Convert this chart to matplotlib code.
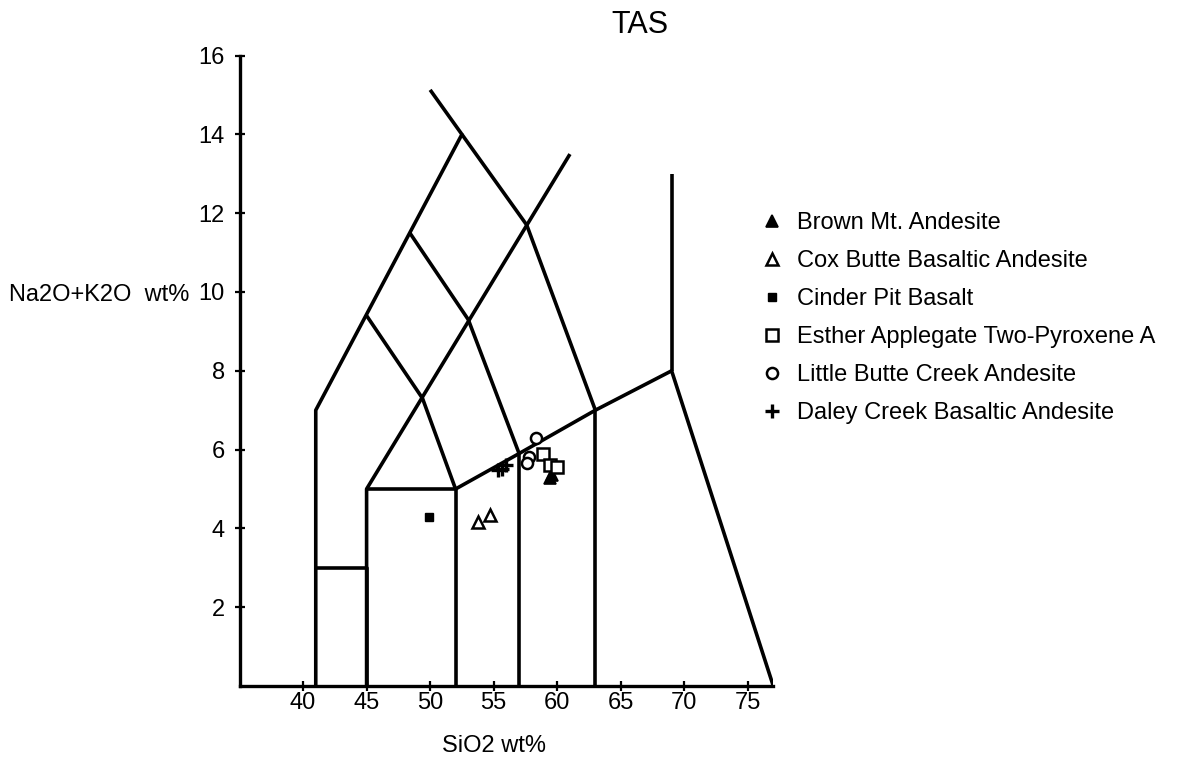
import matplotlib
matplotlib.use("Agg")
import matplotlib.pyplot as plt

plt.rcParams['font.family'] = ['Liberation Sans', 'DejaVu Sans']

# TAS field boundaries (Le Bas et al.), SiO2 vs Na2O+K2O
tas_lines = [
    ([41, 41, 52.5, 50.0], [0, 7, 14, 15.13]),
    ([41, 45, 45], [3, 3, 0]),
    ([45, 45, 61], [0, 5, 13.5]),
    ([45, 52, 52], [5, 5, 0]),
    ([52, 57, 63, 69, 77], [5, 5.9, 7, 8, 0]),
    ([57, 57], [0, 5.9]),
    ([63, 63], [0, 7]),
    ([69, 69], [8, 13]),
    ([52, 49.4, 45], [5, 7.3, 9.4]),
    ([57, 53, 48.4], [5.9, 9.3, 11.5]),
    ([63, 57.6, 52.5], [7, 11.7, 14]),
]

# sample groups
brown_sio2 = [59.4, 59.6]
brown_alk = [5.28, 5.35]
cox_sio2 = [53.8, 54.7]
cox_alk = [4.15, 4.35]
cinder_sio2 = [49.9]
cinder_alk = [4.3]
esther_sio2 = [58.85, 59.4, 59.95]
esther_alk = [5.9, 5.6, 5.55]
little_sio2 = [58.3, 57.8, 57.65]
little_alk = [6.3, 5.8, 5.65]
daley_sio2 = [55.3, 55.65, 56.0]
daley_alk = [5.48, 5.52, 5.6]

xticks = [40, 45, 50, 55, 60, 65, 70, 75]
yticks = [2, 4, 6, 8, 10, 12, 14, 16]

fig = plt.figure(figsize=(11.83, 7.61), dpi=100)
ax = fig.add_axes([239.5 / 1183, 75 / 761, 533.8 / 1183, 630.4 / 761])

for xs, ys in tas_lines:
    ax.plot(xs, ys, color='black', lw=2.6, solid_capstyle='butt', zorder=2)

ax.plot(brown_sio2, brown_alk, ls='none', marker='^', ms=9, mfc='black', mec='black',
        mew=1.2, label='Brown Mt. Andesite', zorder=3)
ax.plot(cox_sio2, cox_alk, ls='none', marker='^', ms=8, mfc='white', mec='black',
        mew=1.8, label='Cox Butte Basaltic Andesite', zorder=3)
ax.plot(cinder_sio2, cinder_alk, ls='none', marker='s', ms=5.5, mfc='black', mec='black',
        mew=1, label='Cinder Pit Basalt', zorder=3)
ax.plot(esther_sio2, esther_alk, ls='none', marker='s', ms=8, mfc='white', mec='black',
        mew=1.8, label='Esther Applegate Two-Pyroxene A', zorder=3)
ax.plot(little_sio2, little_alk, ls='none', marker='o', ms=8, mfc='white', mec='black',
        mew=1.8, label='Little Butte Creek Andesite', zorder=3)
ax.plot(daley_sio2, daley_alk, ls='none', marker='+', ms=10, mec='black',
        mew=2.4, label='Daley Creek Basaltic Andesite', zorder=3)

ax.set_xlim(35, 77)
ax.set_ylim(0, 16)
ax.set_xticks(xticks)
ax.set_yticks(yticks)
for s in ['top', 'right']:
    ax.spines[s].set_visible(False)
for s in ['left', 'bottom']:
    ax.spines[s].set_linewidth(2.4)
ax.tick_params(axis='both', direction='inout', length=7, width=1.6, labelsize=17)
ax.tick_params(axis='x', pad=1)
ax.tick_params(axis='y', pad=7)

ax.set_xlabel('SiO2 wt%', fontsize=17)
ax.xaxis.set_label_coords(0.477, -0.077)
ax.set_ylabel('Na2O+K2O  wt%', fontsize=17, rotation=0, ha='right', va='baseline')
ax.yaxis.set_label_coords(-0.093, 0.61)

fig.text(640 / 1183, 1 - 33 / 761, 'TAS', fontsize=22, ha='center', va='baseline')

handles, labels = ax.get_legend_handles_labels()
fig.legend(handles, labels, loc='upper left', bbox_to_anchor=(760 / 1183, 1 - 212 / 761),
           frameon=False, fontsize=17, handlelength=1.0, handletextpad=0.55,
           labelspacing=0.68, borderpad=0, borderaxespad=0)

fig.savefig('out.png', dpi=100)
